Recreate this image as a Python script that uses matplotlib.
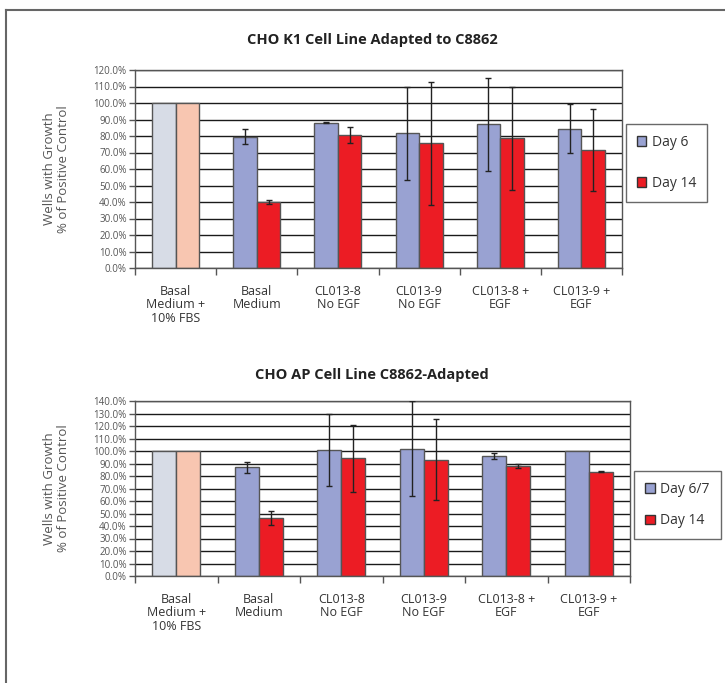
import matplotlib.pyplot as plt
import numpy as np
from matplotlib.lines import Line2D
from matplotlib.patches import Patch

plt.rcParams['font.family'] = ['Open Sans', 'DejaVu Sans']

categories = ["Basal\nMedium +\n10% FBS", "Basal\nMedium", "CL013-8\nNo EGF",
              "CL013-9\nNo EGF", "CL013-8 +\nEGF", "CL013-9 +\nEGF"]

# chart 1: CHO K1
k1_day6 = [100.0, 79.5, 88.0, 82.0, 87.0, 84.5]
k1_day6_lo = [100.0, 75.0, 87.6, 53.5, 58.5, 69.5]
k1_day6_hi = [100.0, 84.0, 88.4, 110.0, 115.0, 99.5]
k1_day14 = [100.0, 40.0, 80.5, 75.5, 78.5, 71.5]
k1_day14_lo = [100.0, 38.5, 75.5, 38.0, 47.5, 46.5]
k1_day14_hi = [100.0, 41.0, 85.5, 112.5, 109.5, 96.5]

# chart 2: CHO AP
ap_day6 = [100.0, 87.5, 101.0, 102.0, 96.0, 100.0]
ap_day6_lo = [100.0, 82.5, 72.0, 64.0, 93.5, 100.0]
ap_day6_hi = [100.0, 91.5, 130.0, 140.0, 98.5, 100.0]
ap_day14 = [100.0, 46.5, 94.5, 93.0, 88.0, 83.5]
ap_day14_lo = [100.0, 40.5, 67.5, 60.5, 86.5, 83.0]
ap_day14_hi = [100.0, 52.0, 121.0, 126.0, 89.5, 84.0]

BLUE = '#99a2d2'
RED = '#ec1c24'
BLUE_LT = '#d7dce6'
RED_LT = '#f8c6b1'
EDGE = '#555555'

W, H = 725, 683
fig = plt.figure(figsize=(W / 100, H / 100), dpi=100)


def px_axes(left, top, right, bottom):
    return fig.add_axes([left / W, 1 - bottom / H, (right - left) / W, (bottom - top) / H])


def draw_chart(ax, d1, lo1, hi1, d2, lo2, hi2, ymax):
    x = np.arange(len(categories)) + 0.5
    bw = 0.29
    c1 = [BLUE_LT] + [BLUE] * (len(d1) - 1)
    c2 = [RED_LT] + [RED] * (len(d2) - 1)
    ax.bar(x - bw / 2, d1, width=bw, color=c1, edgecolor=EDGE, linewidth=1, zorder=2)
    ax.bar(x + bw / 2, d2, width=bw, color=c2, edgecolor=EDGE, linewidth=1, zorder=2)
    d1, lo1, hi1 = map(np.array, (d1, lo1, hi1))
    d2, lo2, hi2 = map(np.array, (d2, lo2, hi2))
    for xs, d, lo, hi in [(x - bw / 2, d1, lo1, hi1), (x + bw / 2, d2, lo2, hi2)]:
        m = (hi - lo) > 0
        ax.errorbar(xs[m], d[m], yerr=[d[m] - lo[m], hi[m] - d[m]], fmt='none',
                    ecolor='#222222', elinewidth=1, capsize=2.5, capthick=1, zorder=3)
    ax.set_xlim(0, len(categories))
    ax.set_ylim(0, ymax)
    ax.set_yticks(np.arange(0, ymax + 1, 10))
    ax.set_yticklabels([f"{v:.1f}%" for v in np.arange(0, ymax + 1, 10)], fontsize=7, color='#555555')
    ax.set_xticks(np.arange(0, len(categories) + 1))
    ax.set_xticklabels([])
    ax.set_xticks(x, minor=True)
    ax.set_xticklabels(categories, minor=True, fontsize=9, color='#333333', linespacing=1.05)
    ax.tick_params(axis='x', which='minor', length=0, pad=12)
    ax.tick_params(axis='x', which='major', length=5, color=EDGE, width=1)
    ax.tick_params(axis='y', length=4, color=EDGE, width=1, pad=2)
    ax.yaxis.grid(True, color='#1a1a1a', linewidth=1)
    ax.set_axisbelow(True)
    for s in ax.spines.values():
        s.set_color(EDGE)
        s.set_linewidth(1)
    ax.set_ylabel("Wells with Growth\n% of Positive Control", fontsize=9.5, color='#555555',
                  labelpad=17, linespacing=1.1)


ax1 = px_axes(135, 70, 622, 268)
draw_chart(ax1, k1_day6, k1_day6_lo, k1_day6_hi, k1_day14, k1_day14_lo, k1_day14_hi, 120)
fig.text(372 / W, 1 - 40 / H, "CHO K1 Cell Line Adapted to C8862", ha='center', va='center',
         fontsize=10.5, fontweight='bold', color='#222222')

ax2 = px_axes(135, 401, 630, 576)
draw_chart(ax2, ap_day6, ap_day6_lo, ap_day6_hi, ap_day14, ap_day14_lo, ap_day14_hi, 140)
fig.text(372 / W, 1 - 375 / H, "CHO AP Cell Line C8862-Adapted", ha='center', va='center',
         fontsize=10.5, fontweight='bold', color='#222222')

for ax, labels, (lx, ly, lw_, lh), gap in [
        (ax1, ["Day 6", "Day 14"], (628, 120, 77, 86), 1.9),
        (ax2, ["Day 6/7", "Day 14"], (637, 470, 81, 70), 1.2)]:
    handles = [Patch(facecolor=BLUE, edgecolor='#333333'), Patch(facecolor=RED, edgecolor='#333333')]
    leg = fig.legend(handles, labels, loc='center',
                     bbox_to_anchor=((lx + lw_ / 2) / W, 1 - (ly + lh / 2) / H),
                     fontsize=10, frameon=True, fancybox=False, edgecolor='#444444',
                     handlelength=0.7, handleheight=0.7, handletextpad=0.4,
                     labelspacing=gap, borderpad=0.8, borderaxespad=0, labelcolor='#333333')
    leg.get_frame().set_linewidth(1)

# outer frame (top and left edges)
fig.add_artist(Line2D([6 / W, 1], [1 - 10 / H, 1 - 10 / H], color='#666666', lw=1.5))
fig.add_artist(Line2D([6 / W, 6 / W], [0, 1 - 10 / H], color='#666666', lw=1.5))

fig.savefig("out.png", dpi=100)
